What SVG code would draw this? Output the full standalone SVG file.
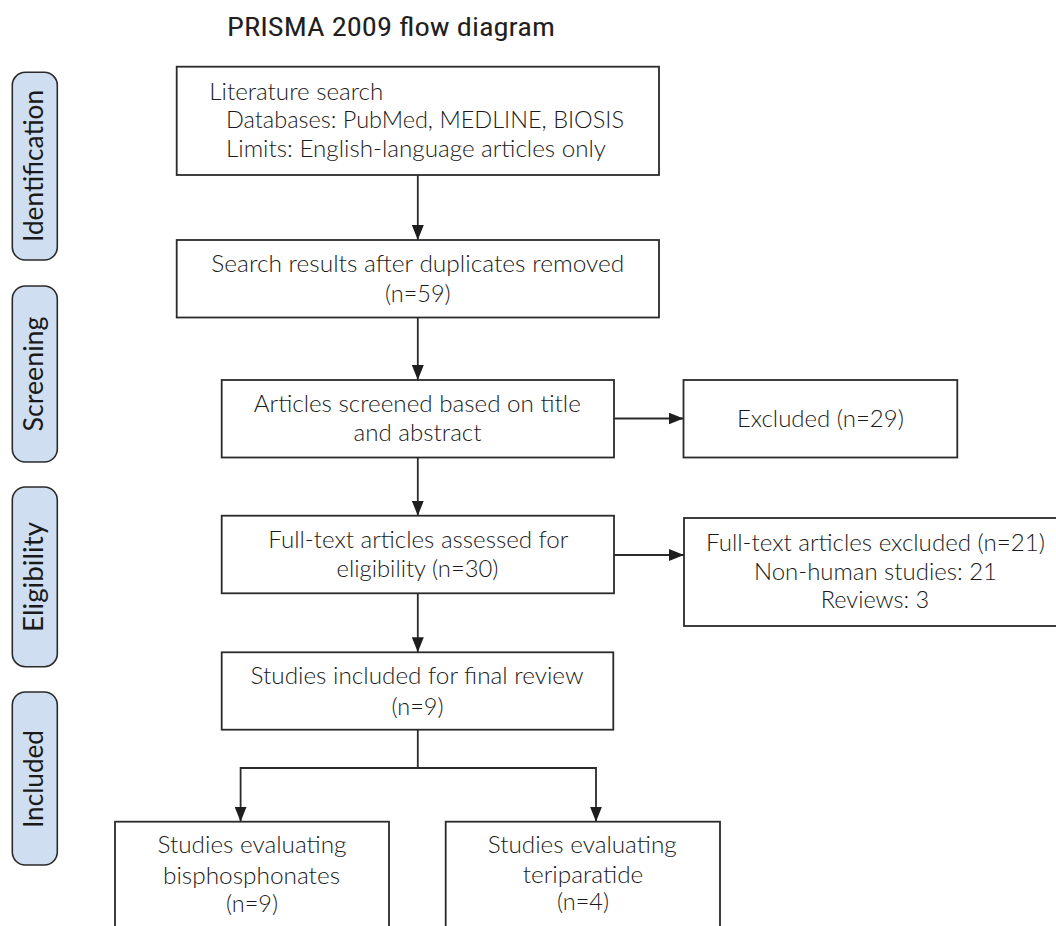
<svg xmlns="http://www.w3.org/2000/svg" width="1056" height="926" viewBox="0 0 1056 926">
<defs>
<style>
.box{fill:#fff;stroke:#2b2b2b;stroke-width:1.8}
.pill{fill:#cfdff1;stroke:#2b2b2b;stroke-width:1.6}
.t{font-family:Lato,"Liberation Sans",sans-serif;font-size:23.5px;font-weight:300;fill:#1a1a1a;text-anchor:middle}
.tl{font-family:Lato,"Liberation Sans",sans-serif;font-size:23.5px;font-weight:300;fill:#1a1a1a;text-anchor:start}
.p{font-family:Lato,"Liberation Sans",sans-serif;font-size:27px;font-weight:400;fill:#1a1a1a;text-anchor:middle}
.title{font-family:"Liberation Sans Narrow","Roboto Condensed","Liberation Sans",sans-serif;font-size:25px;fill:#231f20}
.c{fill:none;stroke:#2b2b2b;stroke-width:1.8}
</style>
<marker id="ah" markerUnits="userSpaceOnUse" markerWidth="15" markerHeight="12" refX="15" refY="6" orient="auto">
<path d="M0,0 L15,6 L0,12 z" fill="#1e1e1e"/>
</marker>
</defs>
<rect width="1056" height="926" fill="#fff"/>
<text class="title" x="227" y="36" textLength="328" lengthAdjust="spacingAndGlyphs">PRISMA 2009 flow diagram</text>

<g id="phase-identification">
<rect class="pill" x="12.3" y="72.3" width="45" height="187.7" rx="13"/>
<text class="p" transform="translate(43.3,166) rotate(-90)" x="0" y="0" textLength="152" lengthAdjust="spacingAndGlyphs">Identification</text>
</g>
<g id="phase-screening">
<rect class="pill" x="12.3" y="286" width="45" height="176" rx="13"/>
<text class="p" transform="translate(43.3,374) rotate(-90)" x="0" y="0" textLength="115" lengthAdjust="spacingAndGlyphs">Screening</text>
</g>
<g id="phase-eligibility">
<rect class="pill" x="12.3" y="487" width="45" height="179.7" rx="13"/>
<text class="p" transform="translate(43.3,577) rotate(-90)" x="0" y="0" textLength="110" lengthAdjust="spacingAndGlyphs">Eligibility</text>
</g>
<g id="phase-included">
<rect class="pill" x="12.3" y="692" width="45" height="173" rx="13"/>
<text class="p" transform="translate(43.3,779) rotate(-90)" x="0" y="0" textLength="98" lengthAdjust="spacingAndGlyphs">Included</text>
</g>

<g id="connectors">
<line class="c" x1="417.8" y1="175" x2="417.8" y2="240" marker-end="url(#ah)"/>
<line class="c" x1="417.8" y1="317.5" x2="417.8" y2="380" marker-end="url(#ah)"/>
<line class="c" x1="417.8" y1="457.5" x2="417.8" y2="515.7" marker-end="url(#ah)"/>
<line class="c" x1="417.8" y1="593.3" x2="417.8" y2="652.3" marker-end="url(#ah)"/>
<line class="c" x1="614" y1="418.5" x2="683.5" y2="418.5" marker-end="url(#ah)"/>
<line class="c" x1="614" y1="555" x2="684" y2="555" marker-end="url(#ah)"/>
<polyline class="c" points="417.8,729.7 417.8,768 240.6,768 240.6,821.7" marker-end="url(#ah)"/>
<polyline class="c" points="417.8,768 596,768 596,821.7" marker-end="url(#ah)"/>
</g>

<g id="node-literature-search">
<rect class="box" x="176.7" y="66.7" width="482.3" height="108.3"/>
<text class="tl" x="209.3" y="100" textLength="174" lengthAdjust="spacingAndGlyphs">Literature search</text>
<text class="tl" x="226" y="128.3" textLength="398" lengthAdjust="spacingAndGlyphs">Databases: PubMed, MEDLINE, BIOSIS</text>
<text class="tl" x="226" y="156.7" textLength="380" lengthAdjust="spacingAndGlyphs">Limits: English-language articles only</text>
</g>
<g id="node-search-results">
<rect class="box" x="176.7" y="240" width="482.3" height="77.5"/>
<text class="t" x="417.8" y="271.7" textLength="413" lengthAdjust="spacingAndGlyphs">Search results after duplicates removed</text>
<text class="t" x="417.8" y="301.7">(n=59)</text>
</g>
<g id="node-screened">
<rect class="box" x="221.7" y="380" width="392.3" height="77.5"/>
<text class="t" x="417.3" y="412.3" textLength="327" lengthAdjust="spacingAndGlyphs">Articles screened based on title</text>
<text class="t" x="417.5" y="441" textLength="128" lengthAdjust="spacingAndGlyphs">and abstract</text>
</g>
<g id="node-excluded">
<rect class="box" x="683.5" y="380" width="273.8" height="77.5"/>
<text class="t" x="820.4" y="426.7" textLength="167" lengthAdjust="spacingAndGlyphs">Excluded (n=29)</text>
</g>
<g id="node-fulltext">
<rect class="box" x="221.7" y="515.7" width="392.3" height="77.6"/>
<text class="t" x="418.3" y="548.3" textLength="300" lengthAdjust="spacingAndGlyphs">Full-text articles assessed for</text>
<text class="t" x="417.5" y="576.7" textLength="162" lengthAdjust="spacingAndGlyphs">eligibility (n=30)</text>
</g>
<g id="node-fulltext-excluded">
<rect class="box" x="684" y="518" width="383" height="108"/>
<text class="t" x="875.5" y="551" textLength="339" lengthAdjust="spacingAndGlyphs">Full-text articles excluded (n=21)</text>
<text class="t" x="875.5" y="580" textLength="243" lengthAdjust="spacingAndGlyphs">Non-human studies: 21</text>
<text class="t" x="875" y="608.3" textLength="108.5" lengthAdjust="spacingAndGlyphs">Reviews: 3</text>
</g>
<g id="node-included">
<rect class="box" x="221.7" y="652.3" width="391.6" height="77.4"/>
<text class="t" x="417" y="684" textLength="333" lengthAdjust="spacingAndGlyphs">Studies included for final review</text>
<text class="t" x="417.5" y="715">(n=9)</text>
</g>
<g id="node-bisphosphonates">
<rect class="box" x="115" y="821.7" width="274" height="130"/>
<text class="t" x="252" y="853" textLength="189" lengthAdjust="spacingAndGlyphs">Studies evaluating</text>
<text class="t" x="251.5" y="884" textLength="177" lengthAdjust="spacingAndGlyphs">bisphosphonates</text>
<text class="t" x="252" y="912">(n=9)</text>
</g>
<g id="node-teriparatide">
<rect class="box" x="445.7" y="821.7" width="274.3" height="130"/>
<text class="t" x="582.2" y="853.3" textLength="189" lengthAdjust="spacingAndGlyphs">Studies evaluating</text>
<text class="t" x="583" y="883.3" textLength="120.6" lengthAdjust="spacingAndGlyphs">teriparatide</text>
<text class="t" x="583" y="910">(n=4)</text>
</g>
</svg>
